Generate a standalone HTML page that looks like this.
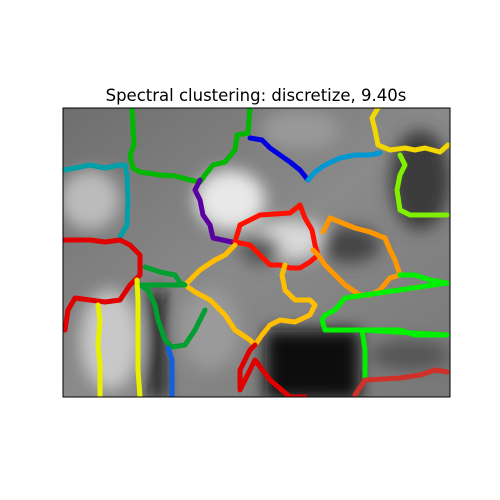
<!DOCTYPE html>
<html><head><meta charset="utf-8"><style>
body{margin:0;background:#fff;}
svg{display:block;}
</style></head><body>
<svg id="chart" width="500" height="500" viewBox="0 0 500 500">
<defs>
<filter id="blur" x="-50%" y="-50%" width="200%" height="200%"><feGaussianBlur stdDeviation="8"/></filter>
<clipPath id="clip"><rect x="63" y="108" width="387" height="289"/></clipPath>
<linearGradient id="bg" x1="0" y1="0" x2="1" y2="1">
<stop offset="0" stop-color="#6e6e6e"/><stop offset="0.5" stop-color="#8a8a8a"/><stop offset="1" stop-color="#777"/></linearGradient>
</defs>
<text x="256" y="101" text-anchor="middle" font-family="DejaVu Sans, Liberation Sans, sans-serif" font-size="16.5" fill="#000">Spectral clustering: discretize, 9.40s</text>
<g clip-path="url(#clip)">
<rect x="63" y="108" width="387" height="289" fill="url(#bg)"/>
<g filter="url(#blur)">
<ellipse cx="230" cy="200" rx="35" ry="30" fill="#e8e8e8"/>
<ellipse cx="90" cy="200" rx="30" ry="30" fill="#bbb"/>
<ellipse cx="110" cy="340" rx="30" ry="50" fill="#c8c8c8"/>
<ellipse cx="290" cy="240" rx="40" ry="20" fill="#d8d8d8"/>
<ellipse cx="350" cy="245" rx="30" ry="18" fill="#444"/>
<ellipse cx="260" cy="250" rx="20" ry="15" fill="#555"/>
<rect x="265" y="330" width="95" height="70" fill="#080808"/>
<rect x="150" y="290" width="15" height="110" fill="#111"/>
<ellipse cx="420" cy="180" rx="30" ry="50" fill="#3a3a3a"/>
<ellipse cx="210" cy="330" rx="30" ry="40" fill="#9a9a9a"/>
<ellipse cx="410" cy="355" rx="40" ry="15" fill="#555"/>
<ellipse cx="300" cy="130" rx="40" ry="20" fill="#999"/>
</g>
<g id="contours"></g>
</g>
<rect x="63" y="108" width="387" height="289" fill="none" stroke="#000" stroke-width="1"/>
</svg>
<script>
const clusterNames = ["green-top","teal","purple","blue","light-blue","yellow-top","yellow-green","red-face","orange","amber","green-dark","bright-green","red-left","yellow-left-1","yellow-left-2","blue-bottom","red-bottom","brown-red"];
const clusterColors = ["#00b800","#00a0a8","#5a00a0","#0000e0","#0098d0","#f0d800","#80f000","#ff1000","#ff9800","#ffbf00","#00a030","#00f000","#e00000","#e8f000","#e8f000","#1060e0","#e00000","#d03028"];
const contourX = [
 [69,71,67,70,77,97,112,127,137,142,150,162,172,174,185,187,187],
 [0,12,27,42,57,62,64,65,64,57],
 [137,132,137,140,147,150,169],
 [187,199,207,217,227,237,245],
 [245,252,262,277,292,307,317],
 [315,309,312,315,327,342,352,362,377,385],
 [337,342,337,334,337,347,357,384],
 [172,177,197,227,237,242,249,252,255,247,237,227,217,207,197,187,177,172],
 [260,267,277,292,307,322,327,332,337,327,317,307,297,282,272,262,255,250],
 [172,162,152,137,127,122,132,147,162,172,187,192,199,207,217,232,247,252,247,232,222,219,222],
 [82,97,112,117,122,77,85,92,95,102,109,122,132,142],
 [337,352,367,384,282,272,262,259,262,299,337,352,384,299,302,302],
 [0,12,27,42,57,67,77,77,77,67,57,42,27,12,5,2],
 [35,37,35,37,37],
 [74,75,75,75,77],
 [105,109,109],
 [192,187,182,177,177,192,207,227,242],
 [292,302,337,357,372,384]
];
const contourY = [
 [0,37,47,60,64,67,68,72,74,67,57,54,42,27,25,0,0],
 [62,60,57,60,57,57,67,92,117,129],
 [72,82,92,107,117,130,134],
 [30,32,40,47,54,62,72],
 [72,64,57,50,47,47,45],
 [0,10,22,37,42,40,42,40,44,37],
 [47,57,67,82,102,107,107,107],
 [134,117,107,105,97,110,122,137,147,154,160,160,157,157,147,137,135,134],
 [124,110,114,120,124,130,142,152,167,170,182,187,187,177,167,157,147,142],
 [137,147,152,162,172,177,184,192,207,222,232,237,227,217,212,214,207,197,192,192,182,167,157],
 [159,164,167,175,177,177,182,197,212,232,239,237,222,202],
 [167,167,172,175,190,202,207,212,222,222,222,227,227,222,242,269],
 [132,132,132,134,132,137,147,157,167,177,192,194,192,190,202,222],
 [197,212,237,257,289],
 [172,192,222,262,289],
 [240,252,289],
 [237,242,252,262,282,252,272,289,289],
 [287,272,270,267,262,264]
];
const X0=63, Y0=108, SX=1, SY=1;
function xScale(v){return X0+v*SX;}
function yScale(v){return Y0+v*SY;}
const g=document.getElementById('contours');
const NS='http://www.w3.org/2000/svg';
for(let i=0;i<contourX.length;i++){
  const pts=contourX[i].map((x,j)=>xScale(x)+','+yScale(contourY[i][j])).join(' ');
  const pl=document.createElementNS(NS,'polyline');
  pl.setAttribute('points',pts);
  pl.setAttribute('fill','none');
  pl.setAttribute('stroke',clusterColors[i]);
  pl.setAttribute('stroke-width','5');
  pl.setAttribute('stroke-linejoin','round');
  pl.setAttribute('stroke-linecap','round');
  
  
  g.appendChild(pl);
}
</script>
</body></html>
